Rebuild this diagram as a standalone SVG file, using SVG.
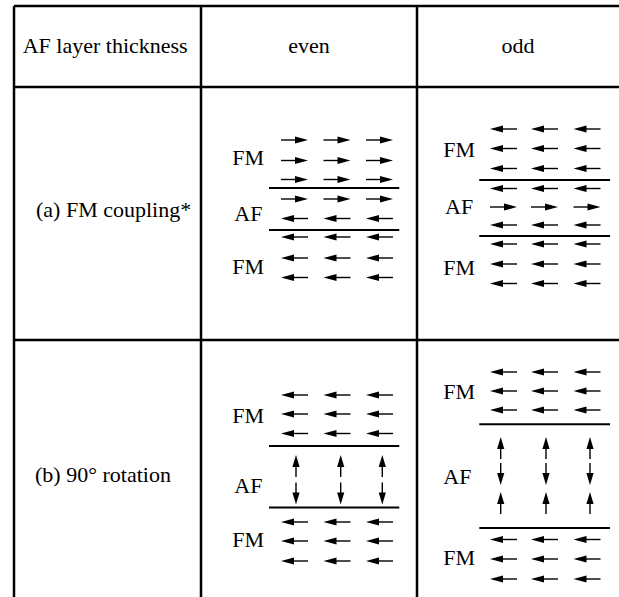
<svg xmlns="http://www.w3.org/2000/svg" xmlns:xlink="http://www.w3.org/1999/xlink" width="619" height="597" viewBox="0 0 619 597">
  <style>
    .grid { stroke: #000; stroke-width: 2.5; fill: none; }
    .sep { stroke: #000; stroke-width: 2; }
    .sh { stroke: #000; stroke-width: 1.4; fill: none; }
    .hd { fill: #000; stroke: none; }
    text { font-family: "Liberation Serif", "DejaVu Serif", serif; font-size: 22px; fill: #000; }
  </style>
  <defs>
    <!-- spin arrows: right / left are 27 long, up / down are 22 long -->
    <g id="r"><path class="sh" d="M0,0H16"/><path class="hd" d="M27,0L14,-3.6L14,3.6Z"/></g>
    <g id="l"><path class="sh" d="M11,0H27"/><path class="hd" d="M0,0L13,-3.6L13,3.6Z"/></g>
    <g id="u"><path class="sh" d="M0,10V22"/><path class="hd" d="M0,0L-3.6,12L3.6,12Z"/></g>
    <g id="d"><path class="sh" d="M0,0V12"/><path class="hd" d="M0,22L-3.6,10L3.6,10Z"/></g>
    <!-- rows of three horizontal arrows -->
    <g id="evR"><use xlink:href="#r" x="281"/><use xlink:href="#r" x="323.5"/><use xlink:href="#r" x="366"/></g>
    <g id="evL"><use xlink:href="#l" x="281"/><use xlink:href="#l" x="323.5"/><use xlink:href="#l" x="366"/></g>
    <g id="odR"><use xlink:href="#r" x="490"/><use xlink:href="#r" x="531"/><use xlink:href="#r" x="573.5"/></g>
    <g id="odL"><use xlink:href="#l" x="490"/><use xlink:href="#l" x="531"/><use xlink:href="#l" x="573.5"/></g>
  </defs>

  <rect width="619" height="597" fill="#fff"/>

  <!-- table grid -->
  <g id="table">
    <path class="grid" d="M14,6H619 M14,87H619 M14,340H619 M14,6V597 M201,6V597 M417,6V597"/>
  </g>

  <!-- header row -->
  <g id="header">
    <text x="22.7" y="53">AF layer thickness</text>
    <text x="309" y="53" text-anchor="middle">even</text>
    <text x="518" y="53" text-anchor="middle">odd</text>
  </g>

  <!-- row labels -->
  <g id="label-a"><text x="36" y="217">(a) FM coupling*</text></g>
  <g id="label-b"><text x="35" y="482">(b) 90° rotation</text></g>

  <!-- (a) even -->
  <g id="a-even">
    <text x="232.3" y="165">FM</text>
    <text x="234.3" y="221">AF</text>
    <text x="232.3" y="274">FM</text>
    <path class="sep" d="M269,188H399.3 M269,230H399.3"/>
    <use xlink:href="#evR" y="140"/>
    <use xlink:href="#evR" y="160.5"/>
    <use xlink:href="#evR" y="179.5"/>
    <use xlink:href="#evR" y="199"/>
    <use xlink:href="#evL" y="218.5"/>
    <use xlink:href="#evL" y="237"/>
    <use xlink:href="#evL" y="258"/>
    <use xlink:href="#evL" y="277.5"/>
  </g>

  <!-- (a) odd -->
  <g id="a-odd">
    <text x="443.3" y="157">FM</text>
    <text x="445" y="213.5">AF</text>
    <text x="443.3" y="275">FM</text>
    <path class="sep" d="M479.3,180H610 M479.3,236H610"/>
    <use xlink:href="#odL" y="129"/>
    <use xlink:href="#odL" y="148.5"/>
    <use xlink:href="#odL" y="168.5"/>
    <use xlink:href="#odL" y="188.5"/>
    <use xlink:href="#odR" y="207"/>
    <use xlink:href="#odL" y="225"/>
    <use xlink:href="#odL" y="244"/>
    <use xlink:href="#odL" y="264"/>
    <use xlink:href="#odL" y="283.5"/>
  </g>

  <!-- (b) even -->
  <g id="b-even">
    <text x="232.3" y="422.7">FM</text>
    <text x="234.3" y="493">AF</text>
    <text x="232.3" y="546.7">FM</text>
    <path class="sep" d="M269,446H399.3 M269,507.5H399.3"/>
    <use xlink:href="#evL" y="395"/>
    <use xlink:href="#evL" y="414"/>
    <use xlink:href="#evL" y="433.5"/>
    <use xlink:href="#u" x="296" y="455"/>
    <use xlink:href="#u" x="340.7" y="455"/>
    <use xlink:href="#u" x="382.3" y="455"/>
    <use xlink:href="#d" x="296" y="482.5"/>
    <use xlink:href="#d" x="340.7" y="482.5"/>
    <use xlink:href="#d" x="382.3" y="482.5"/>
    <use xlink:href="#evL" y="522"/>
    <use xlink:href="#evL" y="541"/>
    <use xlink:href="#evL" y="561"/>
  </g>

  <!-- (b) odd -->
  <g id="b-odd">
    <text x="443.3" y="399">FM</text>
    <text x="443.3" y="483.5">AF</text>
    <text x="443.3" y="565">FM</text>
    <path class="sep" d="M479.3,424.3H610 M479.3,528H610"/>
    <use xlink:href="#odL" y="372"/>
    <use xlink:href="#odL" y="391"/>
    <use xlink:href="#odL" y="410"/>
    <use xlink:href="#u" x="500.7" y="437"/>
    <use xlink:href="#u" x="546" y="437"/>
    <use xlink:href="#u" x="590" y="437"/>
    <use xlink:href="#d" x="500.7" y="463"/>
    <use xlink:href="#d" x="546" y="463"/>
    <use xlink:href="#d" x="590" y="463"/>
    <use xlink:href="#u" x="500.7" y="492"/>
    <use xlink:href="#u" x="546" y="492"/>
    <use xlink:href="#u" x="590" y="492"/>
    <use xlink:href="#odL" y="539.5"/>
    <use xlink:href="#odL" y="559"/>
    <use xlink:href="#odL" y="579"/>
  </g>
</svg>
